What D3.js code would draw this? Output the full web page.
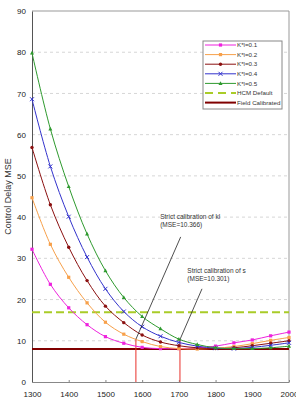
<!DOCTYPE html>
<html lang="en">
<head>
  <meta charset="UTF-8">
  <title>Control Delay MSE</title>
  <script src="https://d3js.org/d3.v7.min.js"></script>
  <style>
    body {
      margin: 0;
      background: #fff;
      font-family: 'Liberation Sans', Arial, sans-serif;
    }
    svg { display: block; }
    .grid line { stroke: #d6d6d6; stroke-dasharray: 3 3; }
    .tick text { fill: #222; font-size: 8px; }
  </style>
</head>
<body>

<svg width="296" height="405"></svg>

<script>
// capacity values on the x axis
const capacities = [1300, 1350, 1400, 1450, 1500, 1550, 1600, 1650, 1700, 1750, 1800, 1850, 1900, 1950, 2000];

// MSE for each K*l value
const k01 = [32.2, 23.7, 18.0, 13.9, 11.0, 9.4, 8.4, 8.1, 8.1, 8.3, 8.7, 9.5, 10.2, 11.2, 12.1];
const k02 = [44.7, 33.4, 25.4, 19.2, 14.5, 11.6, 9.8, 8.6, 8.1, 8.0, 8.2, 8.6, 9.3, 10.1, 10.8];
const k03 = [56.9, 43.0, 32.7, 24.6, 18.4, 14.4, 11.4, 9.7, 8.8, 8.3, 8.1, 8.3, 8.8, 9.4, 10.0];
const k04 = [68.6, 52.3, 40.1, 30.3, 22.6, 17.1, 13.4, 11.1, 9.6, 8.7, 8.2, 8.1, 8.4, 8.9, 9.5];
const k05 = [79.8, 61.4, 47.4, 35.9, 27.0, 20.5, 15.9, 12.9, 10.4, 9.1, 8.3, 8.1, 8.1, 8.3, 8.7];

const seriesNames = ["K*l=0.1", "K*l=0.2", "K*l=0.3", "K*l=0.4", "K*l=0.5"];
const hcmDefault = 16.9;
const fieldCalibrated = 8.0;

// strict calibration points
const strictX = [1583, 1703];
const strictMSE = [10.366, 10.301];
const strictLabels = [["Strict calibration of kl", "(MSE=10.366)"], ["Strict calibration of s", "(MSE=10.301)"]];

const yTicks = [0, 10, 20, 30, 40, 50, 60, 70, 80, 90];
const xTicks = [1300, 1400, 1500, 1600, 1700, 1800, 1900, 2000];

const svg = d3.select("svg"),
      margin = {top: 11, right: 7, bottom: 23, left: 32},
      width = +svg.attr("width") - margin.left - margin.right,
      height = +svg.attr("height") - margin.top - margin.bottom,
      g = svg.append("g").attr("transform", `translate(${margin.left},${margin.top})`);

const x = d3.scaleLinear().domain([1300, 2000]).range([0, width]);
const y = d3.scaleLinear().domain([0, 90]).range([height, 0]);

const styles = [
  {color: "#ee22dd", marker: "square"},
  {color: "#f7a04a", marker: "square"},
  {color: "#8b1010", marker: "circle"},
  {color: "#3333cc", marker: "cross"},
  {color: "#2e9a2e", marker: "triangle"}
];

// gridlines
g.append("g").attr("class", "grid")
  .selectAll("line")
  .data(yTicks.filter(d => d > 0 && d < 90))
  .join("line")
  .attr("x1", 0).attr("x2", width)
  .attr("y1", d => y(d)).attr("y2", d => y(d));

// top + right border
g.append("path")
  .attr("d", `M0,${y(90)}H${width}V${height}`)
  .attr("fill", "none")
  .attr("stroke", "#999");

// axes
const xAxis = g.append("g")
  .attr("transform", `translate(0,${height})`)
  .call(d3.axisBottom(x).tickValues(xTicks).tickFormat(d3.format("d"))
    .tickSizeInner(-2).tickSizeOuter(0).tickPadding(9));
xAxis.select(".domain").attr("stroke", "#888");
xAxis.selectAll(".tick line").attr("stroke", "#888");

const yAxis = g.append("g")
  .call(d3.axisLeft(y).tickValues(yTicks).tickSize(0).tickPadding(6));
yAxis.select(".domain").attr("stroke", "#555");

svg.append("text")
  .attr("transform", `translate(11,${margin.top + height / 2}) rotate(-90)`)
  .attr("text-anchor", "middle")
  .attr("font-size", "9px")
  .attr("fill", "#333")
  .text("Control Delay MSE");

// HCM default and field calibrated lines
g.append("line")
  .attr("x1", 0).attr("x2", width)
  .attr("y1", y(hcmDefault)).attr("y2", y(hcmDefault))
  .attr("stroke", "#a9cc28").attr("stroke-width", 2)
  .attr("stroke-dasharray", "8 4");

g.append("line")
  .attr("x1", 0).attr("x2", width)
  .attr("y1", y(fieldCalibrated)).attr("y2", y(fieldCalibrated))
  .attr("stroke", "#800000").attr("stroke-width", 2);

// strict calibration verticals
g.selectAll(".strict")
  .data(strictX)
  .join("line")
  .attr("class", "strict")
  .attr("x1", d => x(d)).attr("x2", d => x(d))
  .attr("y1", y(0)).attr("y2", (d, i) => y(strictMSE[i]))
  .attr("stroke", "#e8302a").attr("stroke-width", 1);

// series
const allSeries = [k01, k02, k03, k04, k05];
const line = d3.line()
  .curve(d3.curveCatmullRom)
  .x((d, i) => x(capacities[i]))
  .y(d => y(d));

function drawMarker(sel, type, color) {
  if (type === "square") {
    sel.append("rect").attr("x", -1.6).attr("y", -1.6).attr("width", 3.2).attr("height", 3.2)
      .attr("fill", color);
  } else if (type === "circle") {
    sel.append("circle").attr("r", 1.7).attr("fill", color);
  } else if (type === "cross") {
    sel.append("path").attr("d", "M-2,-2L2,2M-2,2L2,-2").attr("stroke", color).attr("stroke-width", 1);
  } else {
    sel.append("path").attr("d", "M0,-2.2L2,1.5H-2Z").attr("fill", color);
  }
}

allSeries.forEach((vals, si) => {
  const st = styles[si];
  g.append("path")
    .datum(vals)
    .attr("fill", "none")
    .attr("stroke", st.color)
    .attr("stroke-width", 1)
    .attr("d", line);
  vals.forEach((v, i) => {
    const m = g.append("g").attr("transform", `translate(${x(capacities[i])},${y(v)})`);
    drawMarker(m, st.marker, st.color);
  });
});

// annotations (anchored in data units)
const annoText = [{cx: 1649, cy: 39.5}, {cx: 1723, cy: 26.4}];
const annoStart = [{cx: 1705, cy: 35.2}, {cx: 1763, cy: 22.6}];

annoText.forEach((a, i) => {
  const t = g.append("text")
    .attr("x", x(a.cx)).attr("y", y(a.cy))
    .attr("font-size", "6.5px").attr("fill", "#333");
  t.append("tspan").text(strictLabels[i][0]);
  t.append("tspan").attr("x", x(a.cx)).attr("dy", "8").text(strictLabels[i][1]);

  g.append("line")
    .attr("x1", x(annoStart[i].cx)).attr("y1", y(annoStart[i].cy))
    .attr("x2", x(strictX[i])).attr("y2", y(strictMSE[i]))
    .attr("stroke", "#222").attr("stroke-width", 0.8);
});

// legend
const legend = svg.append("g").attr("transform", "translate(203,41)");
legend.append("rect")
  .attr("width", 79).attr("height", 68)
  .attr("fill", "#fff").attr("stroke", "#888");

const legendItems = seriesNames.map((n, i) => ({name: n, color: styles[i].color, marker: styles[i].marker, dash: null, w: 1}))
  .concat([
    {name: "HCM Default", color: "#a9cc28", marker: null, dash: "8 5", w: 2},
    {name: "Field Calibrated", color: "#800000", marker: null, dash: null, w: 2}
  ]);

legendItems.forEach((d, i) => {
  const row = legend.append("g").attr("transform", `translate(0,${4 + i * 9.6})`);
  row.append("line")
    .attr("x1", 2).attr("x2", 33)
    .attr("stroke", d.color).attr("stroke-width", d.w)
    .attr("stroke-dasharray", d.dash);
  if (d.marker) {
    const m = row.append("g").attr("transform", "translate(17.5,0)");
    drawMarker(m, d.marker, d.color);
  }
  row.append("text")
    .attr("x", 34).attr("y", 0).attr("dy", "0.35em")
    .attr("font-size", "6.2px").attr("fill", "#333")
    .text(d.name);
});
</script>

</body>
</html>
